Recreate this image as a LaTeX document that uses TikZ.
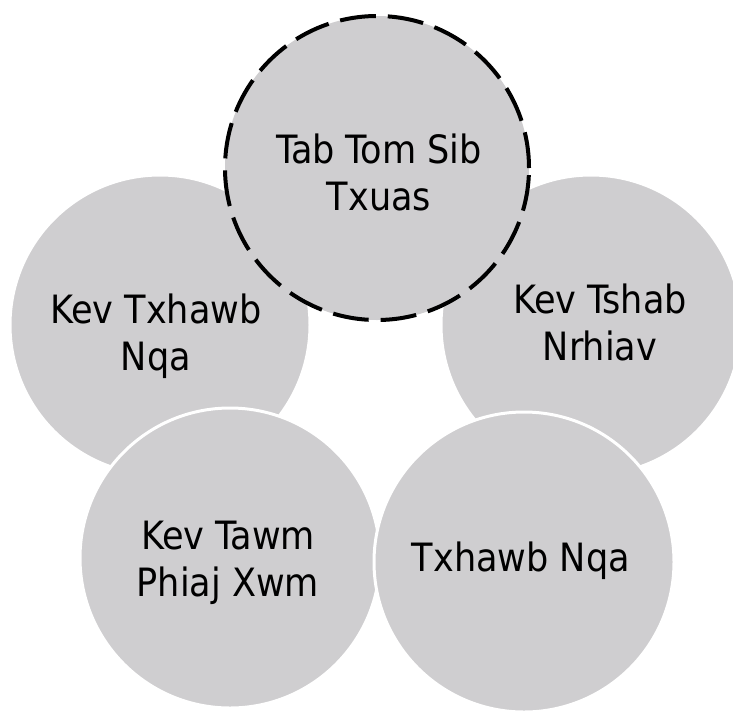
\documentclass[tikz,border=0pt]{standalone}
\usepackage{fontspec}
\setmainfont{DejaVu Sans Condensed}
\definecolor{discgray}{RGB}{207,206,208}
\tikzstyle{disc}=[
	circle,
	fill=discgray,
	draw=white,
	line width=3pt,
	minimum size=300pt,
	inner sep=0pt
]
\tikzstyle{focus}=[
	disc,
	draw=black,
	line width=4pt,
	minimum size=304pt,
	dash pattern=on 36pt off 12pt
]
\tikzstyle{lab}=[
	font=\fontsize{39}{47}\selectfont,
	align=center,
	text=black,
	inner sep=0pt
]
\begin{document}
\begin{tikzpicture}[x=1pt, y=-1pt]
\useasboundingbox (0,0) rectangle (733,713);

\foreach \name/\x/\y/\tx/\ty/\txt in {
    kevtxhawb/160/325/156/336/{Kev Txhawb\\Nqa},
    kevtshab/591/325/600/322/{Kev Tshab\\Nrhiav},
    kevtawm/230/558/228/563/{Kev Tawm\\Phiaj Xwm},
    txhawb/524/562/521/561/{Txhawb Nqa}}{
    \node[disc] at (\x, \y) (\name) {};
    \node[lab] at (\tx, \ty) (\name-lab) {\txt};
}

\node[focus] at (377, 168) (tabtom) {};
\node[lab] at (379, 172) (tabtom-lab) {Tab Tom Sib\\Txuas};

\end{tikzpicture}
\end{document}
